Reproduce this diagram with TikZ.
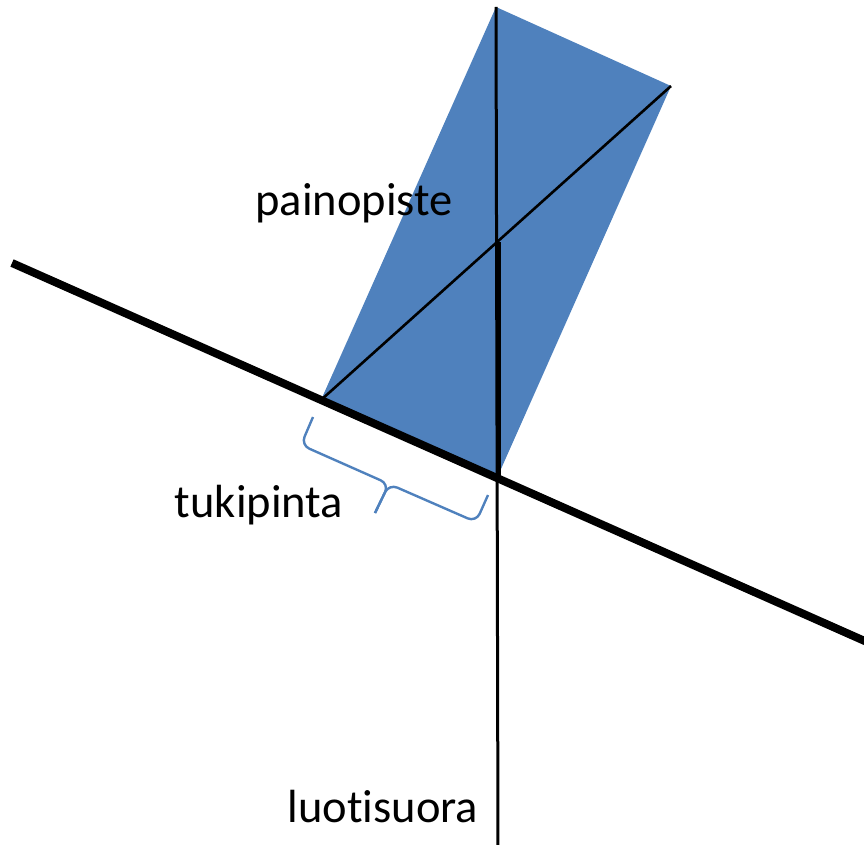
\documentclass[tikz,border=0pt]{standalone}
\usepackage{fontspec}
\setmainfont[Ligatures=NoCommon]{Carlito}
\usepackage{tikz}
\usepackage{xcolor}
\definecolor{block}{HTML}{4F81BD}
\definecolor{ink}{HTML}{000000}
\tikzset{
  every node/.style={font=\fontsize{46.5}{52}\selectfont,text=ink,inner sep=0pt},
  ground/.style={draw=ink,line width=8pt},
  plumb/.style={draw=ink,line width=3pt},
  spanbrace/.style={draw=block,line width=2.4pt,rounded corners=9pt},
}

\begin{document}
\begin{tikzpicture}[x=1pt,y=-1pt]
  \useasboundingbox (0,0) rectangle (864,845);
  \coordinate (lc) at (321,400);
  \coordinate (bc) at (497,478);
  \coordinate (rc) at (671,86);
  \coordinate (tc) at (496,7);
  \fill[block] (lc) -- (bc) -- (rc) -- (tc) -- cycle;

  \coordinate (gl) at (12,263); \coordinate (gr) at (885,650);
  \draw[ground] (gl) -- (gr);

  \coordinate (bot) at (498,850);
  \draw[plumb] (tc) -- (bot);
  \draw[plumb,line width=2.6pt] (lc) -- (rc);
  \coordinate (cg) at (499,242); \coordinate (foot) at (499,478);
  \draw[plumb] (cg) -- (foot);

  \coordinate (ba) at (313,417); \coordinate (ba1) at (301,445);
  \coordinate (bm) at (389,484); \coordinate (bt) at (375,513);
  \coordinate (bb1) at (476,522); \coordinate (bb) at (488,495);
  \draw[spanbrace] (ba) -- (ba1) -- (bm) -- (bt);
  \draw[spanbrace] (bt) -- (bm) -- (bb1) -- (bb);

  \node[anchor=base] (cglabel) at (354,215) {painopiste};
  \node[anchor=base] (baselabel) at (259,517) {tukipinta};
  \node[anchor=base] (plumblabel) at (383,822) {luotisuora};
\end{tikzpicture}
\end{document}
